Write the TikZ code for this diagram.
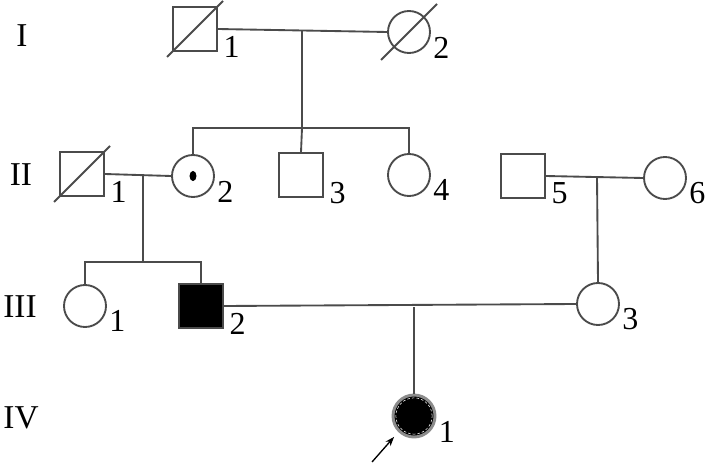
\documentclass[tikz,border=0pt]{standalone}
\usepackage{fontspec}
\setmainfont{Liberation Serif}
\usetikzlibrary{arrows.meta, calc}
\definecolor{ink}{RGB}{75,75,75}

\begin{document}
\begin{tikzpicture}[
  x=0.75pt, y=-0.75pt,
  line/.style={draw=ink, line width=1.4pt},
  male/.style={line, rectangle, minimum size=33pt, inner sep=0pt},
  female/.style={line, circle, minimum size=31.5pt, inner sep=0pt},
  num/.style={font=\fontsize{24}{26}\selectfont, inner sep=0pt, anchor=west},
  gen/.style={font=\fontsize{25}{28}\selectfont, inner sep=0pt},
  sq/.style={label={[num, xshift=4pt, yshift=4pt]south east:#1}},
  ci/.style={label={[num, xshift=5.5pt, yshift=-1pt]-40:#1}}
]
  \useasboundingbox (0,0) rectangle (709,463);

  % generations
  \node[gen] (g1) at (22,36) {I};
  \node[gen] (g2) at (21,175) {II};
  \node[gen] (g3) at (20,307) {III};
  \node[gen] (g4) at (21,418) {IV};

  % I
  \node[male, sq=1] (i1) at (195,29) {};
  \node[female, ci=2] (i2) at (409,32) {};

  % II
  \node[male, sq=1] (ii1) at (82,174) {};
  \node[female, ci=2] (ii2) at (193,176) {};
  \node[male, sq=3] (ii3) at (301,175) {};
  \node[female, ci=4] (ii4) at (409,175) {};
  \node[male, sq=5] (ii5) at (523,176) {};
  \node[female, ci=6] (ii6) at (665,178) {};

  % III
  \node[female, ci=1] (iii1) at (85,306) {};
  \node[male, fill=black, sq=2] (iii2) at (201,306) {};
  \node[female, ci=3] (iii3) at (598,304) {};

  % IV
  \node[female, fill=black, draw=black!45, line width=2.2pt, ci=1] (iv1) at (414,416) {};
  \draw[white, line width=0.4pt, dash pattern=on 2pt off 1.5pt] (iv1.center) circle (13.6pt);

  \fill (ii2.center) ellipse (2.6pt and 3.8pt);

  \foreach \n in {i1,i2,ii1}
    \draw[line] ([shift={(-28,28)}]\n.center) -- ([shift={(28,-28)}]\n.center);

  \coordinate (m1) at (302,31);
  \coordinate (s1) at (302,128);
  \coordinate (m2) at (143,174);
  \coordinate (s2) at (143,262);
  \coordinate (m3) at (597,177);
  \coordinate (m4) at (414,307);

  \draw[line] (i1.east) -- (i2.west);
  \draw[line] (m1) -- (s1);
  \draw[line] (ii2.north) |- (s1) -| (ii4.north);
  \draw[line] (s1) -- (ii3.north);

  \draw[line] (ii1.east) -- (ii2.west);
  \draw[line] (m2) -- (s2);
  \draw[line] (iii1.north) |- (s2) -| (iii2.north);

  \draw[line] (ii5.east) -- (ii6.west);
  \draw[line] (m3) -- (iii3.north);

  \draw[line] (iii2.east) -- (iii3.west);
  \draw[line] (m4) -- (iv1.north);

  \coordinate (pa) at (372,462);
  \draw[-{Stealth[length=7pt, width=5pt]}, line width=1pt] (pa) -- ([shift={(-4,5)}]iv1.south west);
\end{tikzpicture}
\end{document}
